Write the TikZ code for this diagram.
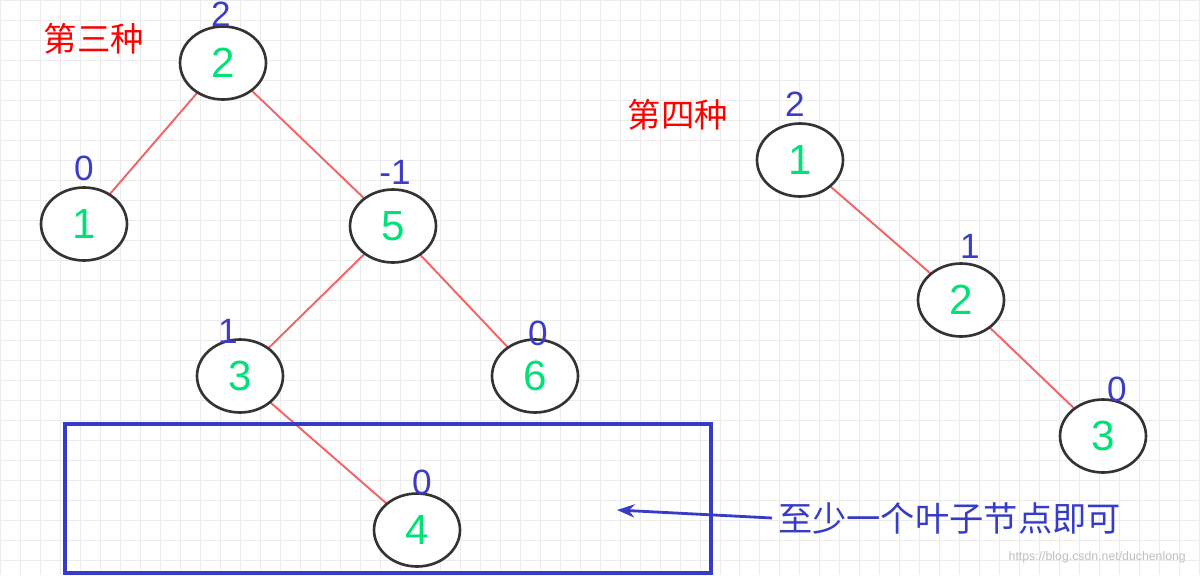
\documentclass[tikz,border=0pt]{standalone}
\usepackage{fontspec}
\setmainfont{Liberation Sans}
\newfontfamily\cjk{Noto Sans CJK SC}
\usetikzlibrary{shapes.geometric,arrows.meta}
\definecolor{nodegreen}{RGB}{0,225,120}
\definecolor{lblue}{RGB}{60,60,200}
\definecolor{edgered}{RGB}{245,100,100}
\definecolor{boxblue}{RGB}{55,60,200}
\tikzset{
 tn/.style={ellipse,draw=black!80,line width=1.5pt,fill=white,minimum width=1.72cm,minimum height=1.46cm,text=nodegreen,font=\fontsize{24}{24}\selectfont},
 bal/.style={text=lblue,font=\fontsize{20}{20}\selectfont,inner sep=0pt},
 edge/.style={draw=edgered,line width=1.1pt},
 title/.style={text=red,font=\cjk\fontsize{19}{19}\selectfont}
}
\begin{document}
\begin{tikzpicture}[x=0.02cm,y=-0.02cm]
\useasboundingbox (0,0) rectangle (1200,575);
\fill[white] (0,0) rectangle (1200,575);
\draw[black!8,line width=0.4pt,step=0.4cm] (0,0) grid (1200,575);
\draw[edge] (223,63) -- (84,224);
\draw[edge] (223,63) -- (393,226);
\draw[edge] (393,226) -- (240,376);
\draw[edge] (393,226) -- (535,376);
\draw[edge] (240,376) -- (417,530);
\draw[edge] (800,160) -- (961,300);
\draw[edge] (961,300) -- (1103,436);
\node[tn] (n2) at (223,63) {2};
\node[tn] (n1) at (84,224) {1};
\node[tn] (n5) at (393,226) {5};
\node[tn] (n3) at (240,376) {3};
\node[tn] (n6) at (535,376) {6};
\node[tn] (n4) at (417,530) {4};
\node[tn] (r1) at (800,160) {1};
\node[tn] (r2) at (961,300) {2};
\node[tn] (r3) at (1103,436) {3};
\node[bal] (b2) at (221,14) {2};
\node[bal] (b1) at (84,168) {0};
\node[bal] (b5) at (395,172) {-1};
\node[bal] (b3) at (228,331) {1};
\node[bal] (b6) at (538,333) {0};
\node[bal] (b4) at (422,482) {0};
\node[bal] (c1) at (795,104) {2};
\node[bal] (c2) at (970,246) {1};
\node[bal] (c3) at (1117,389) {0};
\node[title] (t3) at (94,39) {第三种};
\node[title] (t4) at (678,115) {第四种};
\node[draw=boxblue,line width=2pt,minimum width=12.92cm,minimum height=2.98cm,inner sep=0pt] (box) at (388,498.5) {};
\node[text=boxblue,font=\cjk\fontsize{19.5}{19.5}\selectfont,anchor=west] (note) at (772,518) {至少一个叶子节点即可};
\coordinate (tip) at (617,510);
\draw[boxblue,line width=1.6pt,-{Stealth[length=10pt]}] (note.west) -- (tip);
\node[text=black!25,font=\fontsize{7}{7}\selectfont,anchor=east] (wm) at (1192,557) {https://blog.csdn.net/duchenlong};
\end{tikzpicture}
\end{document}
